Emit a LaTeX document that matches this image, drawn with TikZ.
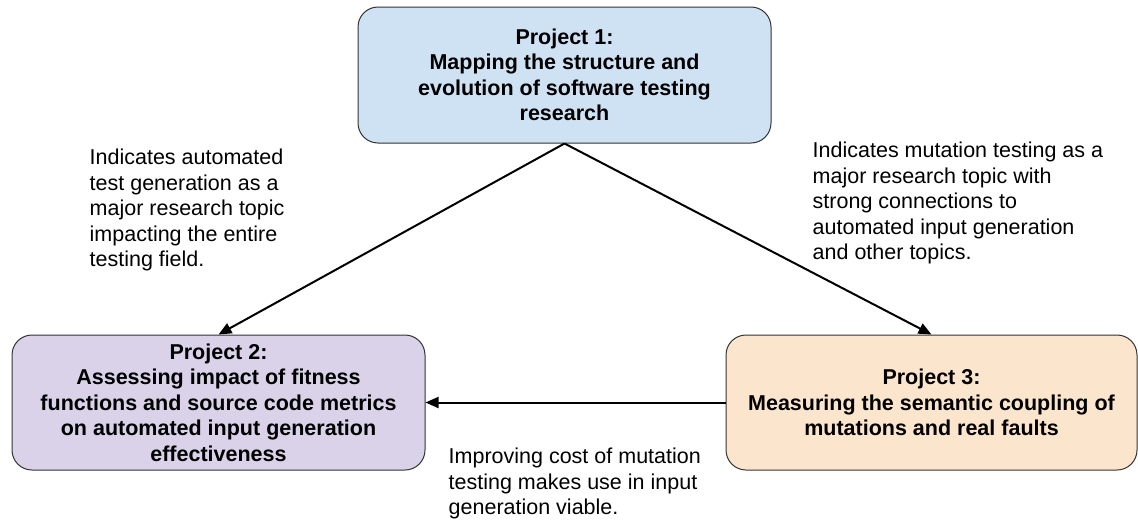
\documentclass[tikz,border=0pt]{standalone}
\usepackage{fontspec}
\setmainfont{Liberation Sans}
\usetikzlibrary{arrows.meta}
\definecolor{blueA}{HTML}{CFE2F3}
\definecolor{purpleA}{HTML}{D9D2E9}
\definecolor{orangeA}{HTML}{FCE5CD}
\definecolor{edgegray}{HTML}{333333}
\tikzset{
  proj/.style={draw=edgegray, line width=1pt, rounded corners=20pt, align=center,
    font=\fontsize{21.5}{25.5}\selectfont\bfseries, inner sep=0pt},
  lbl/.style={align=left, anchor=north west, inner sep=0pt,
    font=\fontsize{21.5}{25.5}\selectfont},
  conn/.style={line width=2pt, -{Triangle[length=13pt,width=11pt]}}
}
\begin{document}
\begin{tikzpicture}[x=1pt,y=-1pt]
\useasboundingbox (0,0) rectangle (1138,525);
\node[proj, fill=blueA, minimum width=413pt, minimum height=136pt] (p1) at (564.5,75)
  {Project 1:\\Mapping the structure and\\evolution of software testing\\research};
\node[proj, fill=purpleA, minimum width=413pt, minimum height=135pt] (p2) at (218.5,402.5)
  {Project 2:\\Assessing impact of fitness\\functions and source code metrics\\on automated input generation\\effectiveness};
\node[proj, fill=orangeA, minimum width=411pt, minimum height=135pt] (p3) at (931.5,402.5)
  {Project 3:\\Measuring the semantic coupling of\\mutations and real faults};
\node[lbl] (l1) at (89.5,149)
  {Indicates automated\\test generation as a\\major research topic\\impacting the entire\\testing field.};
\node[lbl] (l2) at (812.5,142)
  {Indicates mutation testing as a\\major research topic with\\strong connections to\\automated input generation\\and other topics.};
\node[lbl] (l3) at (448.5,448)
  {Improving cost of mutation\\testing makes use in input\\generation viable.};
\draw[conn] (p1.south) -- (p2.north);
\draw[conn] (p1.south) -- (p3.north);
\draw[conn] (p3.west) -- (p2.east);
\end{tikzpicture}
\end{document}
